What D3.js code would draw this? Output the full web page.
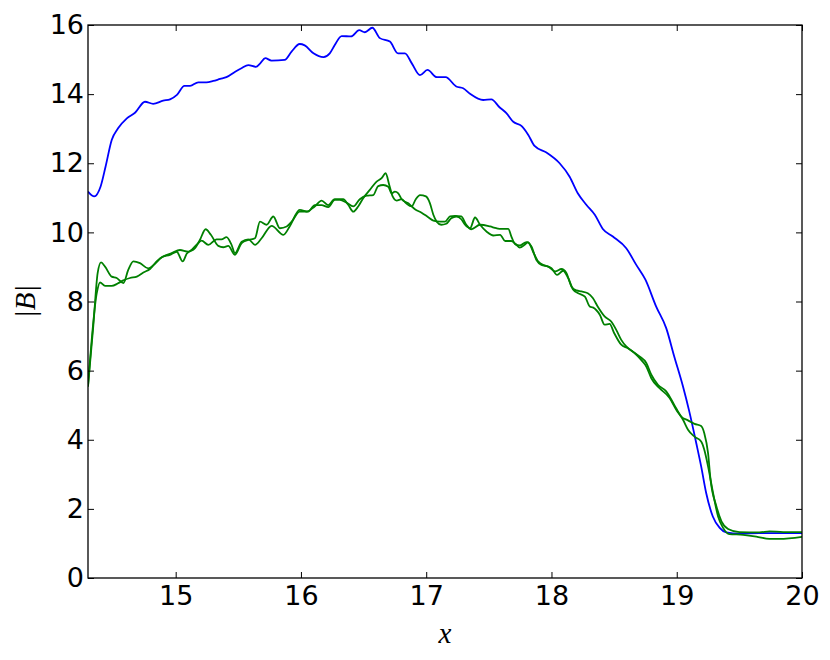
<!DOCTYPE html>
<html>
<head>
<meta charset="utf-8">
<script src="https://cdn.jsdelivr.net/npm/d3@7"></script>
<style>
  body { margin: 0; background: #fff; }
  .axis text { font-family: "DejaVu Sans", sans-serif; font-size: 27px; fill: #000; }
  .axis line { stroke: #000; stroke-width: 1; }
  .axis path { display: none; }
  .label { font-family: "Liberation Serif", serif; font-style: italic; font-size: 29px; }
</style>
</head>
<body>
<div id="chart"></div>
<script>
// tick values
var xTicks = [15, 16, 17, 18, 19, 20];
var yTicks = [0, 2, 4, 6, 8, 10, 12, 14, 16];

// |B| along x
var blue = [
    [14.30, 11.18], [14.35, 11.04], [14.40, 11.32], [14.44, 11.90], [14.49, 12.68],
    [14.54, 13.01], [14.61, 13.30], [14.675, 13.46], [14.755, 13.78], [14.82, 13.72],
    [14.90, 13.81], [14.955, 13.85], [15.01, 13.98], [15.07, 14.24], [15.115, 14.24],
    [15.18, 14.34], [15.245, 14.34], [15.30, 14.38], [15.355, 14.44], [15.405, 14.49],
    [15.475, 14.65], [15.525, 14.75], [15.58, 14.84], [15.64, 14.79], [15.675, 14.89],
    [15.715, 15.04], [15.765, 14.97], [15.87, 14.99], [15.925, 15.23], [15.99, 15.45],
    [16.03, 15.41], [16.10, 15.18], [16.18, 15.07], [16.23, 15.18], [16.27, 15.42],
    [16.325, 15.68], [16.40, 15.67], [16.465, 15.85], [16.51, 15.79], [16.57, 15.92],
    [16.63, 15.62], [16.71, 15.52], [16.775, 15.18], [16.83, 15.18], [16.885, 14.89],
    [16.95, 14.55], [17.01, 14.70], [17.085, 14.49], [17.155, 14.49], [17.24, 14.22],
    [17.295, 14.17], [17.35, 14.01], [17.455, 13.83], [17.52, 13.85], [17.585, 13.62],
    [17.64, 13.45], [17.695, 13.20], [17.76, 13.08], [17.815, 12.82], [17.865, 12.50],
    [17.96, 12.31], [18.065, 12.00], [18.145, 11.61], [18.21, 11.13], [18.278, 10.80],
    [18.346, 10.51], [18.41, 10.10], [18.49, 9.88], [18.597, 9.54], [18.677, 9.06],
    [18.75, 8.63], [18.836, 7.85], [18.916, 7.23], [18.98, 6.41], [19.05, 5.54],
    [19.10, 4.82], [19.156, 3.90], [19.195, 3.23], [19.235, 2.46], [19.288, 1.78],
    [19.343, 1.45], [19.395, 1.32], [19.50, 1.28], [19.66, 1.30], [20.0, 1.30]
];

var greenA = [
    [14.30, 5.54], [14.342, 7.28], [14.377, 8.82], [14.404, 9.13], [14.436, 9.01],
    [14.489, 8.72], [14.529, 8.68], [14.582, 8.53], [14.622, 8.92], [14.662, 9.16],
    [14.715, 9.11], [14.781, 8.96], [14.835, 9.09], [14.888, 9.28], [14.954, 9.35],
    [15.008, 9.44], [15.056, 9.16], [15.088, 9.38], [15.154, 9.54], [15.193, 9.78],
    [15.239, 10.09], [15.281, 9.93], [15.34, 9.61], [15.38, 9.57], [15.42, 9.61],
    [15.473, 9.35], [15.527, 9.69], [15.58, 9.78], [15.633, 9.83], [15.673, 10.31],
    [15.726, 10.22], [15.779, 10.46], [15.832, 10.12], [15.886, 10.17], [15.926, 10.31],
    [15.99, 10.60], [16.045, 10.60], [16.11, 10.75], [16.165, 10.92], [16.218, 10.79],
    [16.27, 10.96], [16.338, 10.96], [16.377, 10.80], [16.418, 10.60], [16.457, 10.75],
    [16.497, 10.99], [16.55, 11.23], [16.604, 11.47], [16.644, 11.57], [16.676, 11.71],
    [16.705, 11.37], [16.732, 11.04], [16.764, 10.92], [16.804, 10.96], [16.84, 10.84],
    [16.883, 10.75], [16.917, 10.96], [16.95, 11.08], [16.998, 11.04], [17.03, 10.84],
    [17.057, 10.51], [17.084, 10.31], [17.12, 10.22], [17.16, 10.25], [17.20, 10.41],
    [17.24, 10.46], [17.28, 10.38], [17.31, 10.22], [17.35, 10.12], [17.39, 10.43],
    [17.43, 10.22], [17.483, 10.02], [17.536, 9.91], [17.59, 9.93], [17.63, 9.75],
    [17.68, 9.75], [17.72, 9.64], [17.746, 9.56], [17.786, 9.64], [17.813, 9.72],
    [17.853, 9.44], [17.893, 9.16], [17.947, 9.04], [18.00, 8.96], [18.045, 8.77],
    [18.093, 8.89], [18.133, 8.68], [18.174, 8.34], [18.214, 8.24], [18.267, 8.14],
    [18.307, 7.85], [18.33, 7.83], [18.387, 7.61], [18.424, 7.33], [18.464, 7.35],
    [18.50, 7.09], [18.557, 6.75], [18.61, 6.65], [18.663, 6.51], [18.716, 6.31],
    [18.757, 6.12], [18.797, 5.78], [18.863, 5.49], [18.943, 5.21], [18.996, 4.87],
    [19.05, 4.58], [19.09, 4.29], [19.142, 4.09], [19.195, 3.95], [19.22, 3.71],
    [19.25, 3.23], [19.29, 2.46], [19.33, 1.78], [19.37, 1.45], [19.42, 1.27],
    [19.53, 1.25], [19.635, 1.20], [19.74, 1.13], [19.82, 1.13], [20.0, 1.19]
];

var greenB = [
    [14.30, 5.54], [14.37, 8.24], [14.396, 8.55], [14.436, 8.45], [14.489, 8.45],
    [14.542, 8.53], [14.582, 8.61], [14.635, 8.68], [14.69, 8.72], [14.742, 8.84],
    [14.795, 8.94], [14.848, 9.16], [14.90, 9.30], [14.968, 9.40], [15.034, 9.49],
    [15.10, 9.44], [15.167, 9.64], [15.207, 9.76], [15.26, 9.64], [15.326, 9.80],
    [15.366, 9.80], [15.406, 9.86], [15.446, 9.64], [15.473, 9.40], [15.527, 9.73],
    [15.58, 9.80], [15.633, 9.64], [15.686, 9.83], [15.766, 10.19], [15.86, 9.93],
    [15.91, 10.17], [15.99, 10.65], [16.058, 10.60], [16.11, 10.79], [16.165, 10.79],
    [16.218, 10.73], [16.27, 10.94], [16.311, 10.94], [16.364, 10.86], [16.418, 10.75],
    [16.47, 10.96], [16.524, 11.06], [16.577, 11.08], [16.617, 11.34], [16.657, 11.37],
    [16.697, 11.32], [16.724, 11.13], [16.75, 11.18], [16.777, 11.13], [16.804, 10.96],
    [16.857, 10.84], [16.91, 10.67], [16.963, 10.57], [17.016, 10.44], [17.057, 10.34],
    [17.11, 10.31], [17.15, 10.31], [17.19, 10.46], [17.23, 10.48], [17.28, 10.46],
    [17.32, 10.22], [17.36, 10.09], [17.43, 10.22], [17.51, 10.17], [17.56, 10.12],
    [17.60, 10.10], [17.655, 10.10], [17.68, 9.88], [17.71, 9.66], [17.746, 9.62],
    [17.80, 9.72], [17.84, 9.59], [17.88, 9.20], [17.92, 9.06], [17.975, 9.01],
    [18.03, 8.87], [18.08, 8.94], [18.12, 8.82], [18.16, 8.43], [18.20, 8.32],
    [18.24, 8.29], [18.29, 8.24], [18.33, 8.10], [18.37, 7.85], [18.424, 7.57],
    [18.477, 7.42], [18.517, 7.18], [18.557, 6.89], [18.597, 6.70], [18.65, 6.55],
    [18.703, 6.41], [18.757, 6.22], [18.797, 5.88], [18.85, 5.59], [18.916, 5.40],
    [18.98, 5.01], [19.036, 4.67], [19.09, 4.56], [19.142, 4.46], [19.195, 4.40],
    [19.22, 4.19], [19.25, 3.61], [19.27, 2.84], [19.317, 2.07], [19.357, 1.64],
    [19.41, 1.42], [19.50, 1.33], [19.66, 1.32], [19.74, 1.35], [19.85, 1.33],
    [20.0, 1.33]
];

var w = 830, h = 660;
var margin = {top: 25, right: 28, bottom: 82, left: 88};
var width = w - margin.left - margin.right;
var height = h - margin.top - margin.bottom;

var x = d3.scaleLinear().domain([14.3, 20]).range([0, width]);
var y = d3.scaleLinear().domain([0, 16]).range([height, 0]);

var svg = d3.select("#chart").append("svg")
    .attr("width", w)
    .attr("height", h)
    .append("g")
    .attr("transform", "translate(" + margin.left + "," + margin.top + ")");

svg.append("clipPath").attr("id", "clip")
    .append("rect").attr("width", width).attr("height", height);

var line = d3.line()
    .x(function (d) { return x(d[0]); })
    .y(function (d) { return y(d[1]); })
    .curve(d3.curveMonotoneX);

var series = [
    {data: blue, color: "#0000ff"},
    {data: greenA, color: "#008000"},
    {data: greenB, color: "#008000"}
];

svg.append("g").attr("clip-path", "url(#clip)")
    .selectAll("path")
    .data(series)
    .enter().append("path")
    .attr("d", function (d) { return line(d.data); })
    .attr("fill", "none")
    .attr("stroke", function (d) { return d.color; })
    .attr("stroke-width", 1.8)
    .attr("stroke-linejoin", "round");

// ticks point inward on all four sides
svg.append("g").attr("class", "axis")
    .attr("transform", "translate(0," + height + ")")
    .call(d3.axisBottom(x).tickValues(xTicks).tickFormat(d3.format("d"))
        .tickSizeInner(-6).tickSizeOuter(0).tickPadding(8));

svg.append("g").attr("class", "axis")
    .call(d3.axisTop(x).tickValues(xTicks).tickSizeInner(-6).tickSizeOuter(0).tickFormat(""));

svg.append("g").attr("class", "axis")
    .call(d3.axisLeft(y).tickValues(yTicks).tickFormat(d3.format("d"))
        .tickSizeInner(-6).tickSizeOuter(0).tickPadding(4));

svg.append("g").attr("class", "axis")
    .attr("transform", "translate(" + width + ",0)")
    .call(d3.axisRight(y).tickValues(yTicks).tickSizeInner(-6).tickSizeOuter(0).tickFormat(""));

svg.append("rect")
    .attr("width", width)
    .attr("height", height)
    .attr("fill", "none")
    .attr("stroke", "#000")
    .attr("stroke-width", 1.3);

svg.append("text")
    .attr("class", "label")
    .attr("text-anchor", "middle")
    .attr("x", width / 2)
    .attr("y", height + 65)
    .text("x");

svg.append("text")
    .attr("class", "label")
    .attr("text-anchor", "middle")
    .attr("transform", "translate(" + (35 - margin.left) + "," + (height / 2) + ") rotate(-90)")
    .text("|B|");
</script>
</body>
</html>
